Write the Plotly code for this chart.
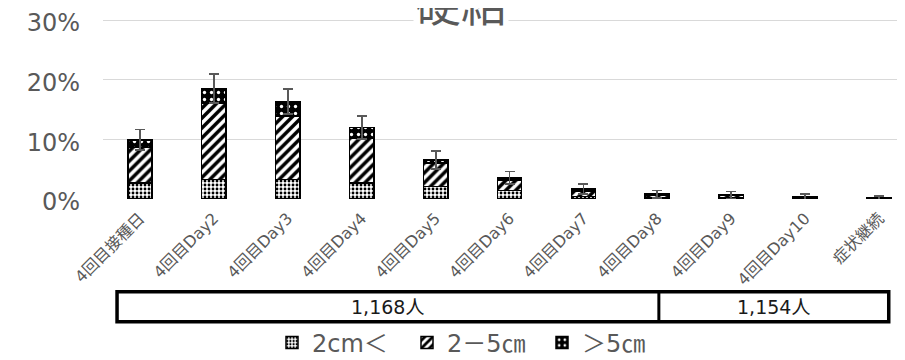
import plotly.graph_objects as go

# ---------------- data ----------------
categories = ["4回目接種日", "4回目Day2", "4回目Day3", "4回目Day4", "4回目Day5",
              "4回目Day6", "4回目Day7", "4回目Day8", "4回目Day9", "4回目Day10", "症状継続"]
series_names = ["2cm＜", "2－5㎝", "＞5㎝"]
small = [2.65, 3.3, 3.3, 2.65, 2.1, 1.4, 0.45, 0.25, 0.2, 0.12, 0.05]
mid = [5.95, 12.7, 10.6, 7.45, 3.9, 1.75, 0.85, 0.45, 0.35, 0.2, 0.09]
large = [1.3, 2.5, 2.4, 1.85, 0.55, 0.4, 0.37, 0.13, 0.12, 0.06, 0.03]
err = [1.75, 2.4, 2.1, 1.95, 1.55, 1.05, 0.83, 0.6, 0.6, 0.5, 0.33]
y_ticks = [0, 10, 20, 30]
y_tick_labels = ["0%", "10%", "20%", "30%"]
title_text = "硬結"
group_labels = ["1,168人", "1,154人"]
group_spans = [(-0.31, 7.02), (7.02, 10.13)]  # category-index spans of the N table

# ---------------- layout constants ----------------
OFF = 8                      # page body margin in the browser
W, H = 905 - OFF, 360 - OFF
PLOT_LEFT, PLOT_TOP, PLOT_BOTTOM = 103, 19, 199   # screen pixels
Y_MAX = 30.17                # leaves the 30% gridline 1px inside the plot area
L = PLOT_LEFT - OFF
T = PLOT_TOP - OFF
B = H - (PLOT_BOTTOM - OFF)
R = 0
GREY = "#595959"
FONT = "DejaVu Sans, Noto Sans CJK JP, sans-serif"
CJK = "Noto Sans CJK JP, DejaVu Sans, sans-serif"


def py(p):  # screen pixel y -> paper y
    return (PLOT_BOTTOM - p) / (PLOT_BOTTOM - PLOT_TOP)


def px(p):  # screen pixel x -> paper x
    return (p - PLOT_LEFT) / (W - L - R)


fig = go.Figure()
patterns = [
    dict(shape=".", fgcolor="black", bgcolor="white", fgopacity=1, size=4, solidity=0.4),
    dict(shape="/", fgcolor="black", bgcolor="white", fgopacity=1, size=7, solidity=0.5),
    dict(shape=".", fgcolor="white", bgcolor="black", fgopacity=1, size=7, solidity=0.18),
]
for name, vals, pat in zip(series_names, [small, mid, large], patterns):
    kw = {}
    if vals is large:
        kw["error_y"] = dict(type="data", array=err, visible=True, color=GREY,
                             thickness=1.8, width=5)
    fig.add_trace(go.Bar(
        x=categories, y=vals, name=name,
        marker=dict(color="white", pattern=pat, line=dict(color="black", width=1.5)),
        width=0.33, **kw))

fig.update_layout(
    width=W, height=H, barmode="stack",
    margin=dict(l=L, r=R, t=T, b=B, pad=0, autoexpand=False),
    plot_bgcolor="white", paper_bgcolor="white",
    showlegend=True,
    legend=dict(orientation="h", x=px(272), y=py(343), xanchor="left", yanchor="middle",
                font=dict(family=FONT, size=24, color=GREY), traceorder="normal",
                bgcolor="rgba(0,0,0,0)", itemwidth=30, entrywidth=90),
    xaxis=dict(range=[-0.5, 10.35], showgrid=False, zeroline=False, showline=False,
               tickangle=-45, tickfont=dict(family=FONT, size=16, color=GREY),
               ticklabelstandoff=6, automargin=False),
    yaxis=dict(range=[0, Y_MAX], tickvals=y_ticks, ticktext=y_tick_labels, showgrid=True,
               gridcolor="#d9d9d9", gridwidth=1.3, zeroline=False, showline=False,
               tickfont=dict(family=FONT, size=24, color=GREY), ticklabelstandoff=22,
               ticklabelshift=3, ticklabeloverflow="allow", automargin=False),
)

# title (partly cut by top edge, as in the reference)
fig.add_annotation(text=title_text, xref="paper", yref="paper", x=px(461), y=py(1),
                   xanchor="center", yanchor="middle", showarrow=False,
                   font=dict(family=CJK, size=46, color=GREY), bgcolor="white")

# N table under the axis
box_top, box_bot = 291.7, 321.7
x0_all = group_spans[0][0]
x1_all = group_spans[-1][1]
fig.add_shape(type="rect", xref="x", yref="paper", x0=x0_all, x1=x1_all,
              y0=py(box_bot), y1=py(box_top), line=dict(color="black", width=3.5))
for (a, b), lab in zip(group_spans, group_labels):
    if a != x0_all:
        fig.add_shape(type="line", xref="x", yref="paper", x0=a, x1=a,
                      y0=py(box_bot), y1=py(box_top), line=dict(color="black", width=3))
    fig.add_annotation(text=lab, xref="x", yref="paper", x=(a + b) / 2,
                       y=py((box_top + box_bot) / 2), showarrow=False,
                       xanchor="center", yanchor="middle",
                       font=dict(family=FONT, size=19, color="#1a1a1a"))

fig.write_html("out.html")
